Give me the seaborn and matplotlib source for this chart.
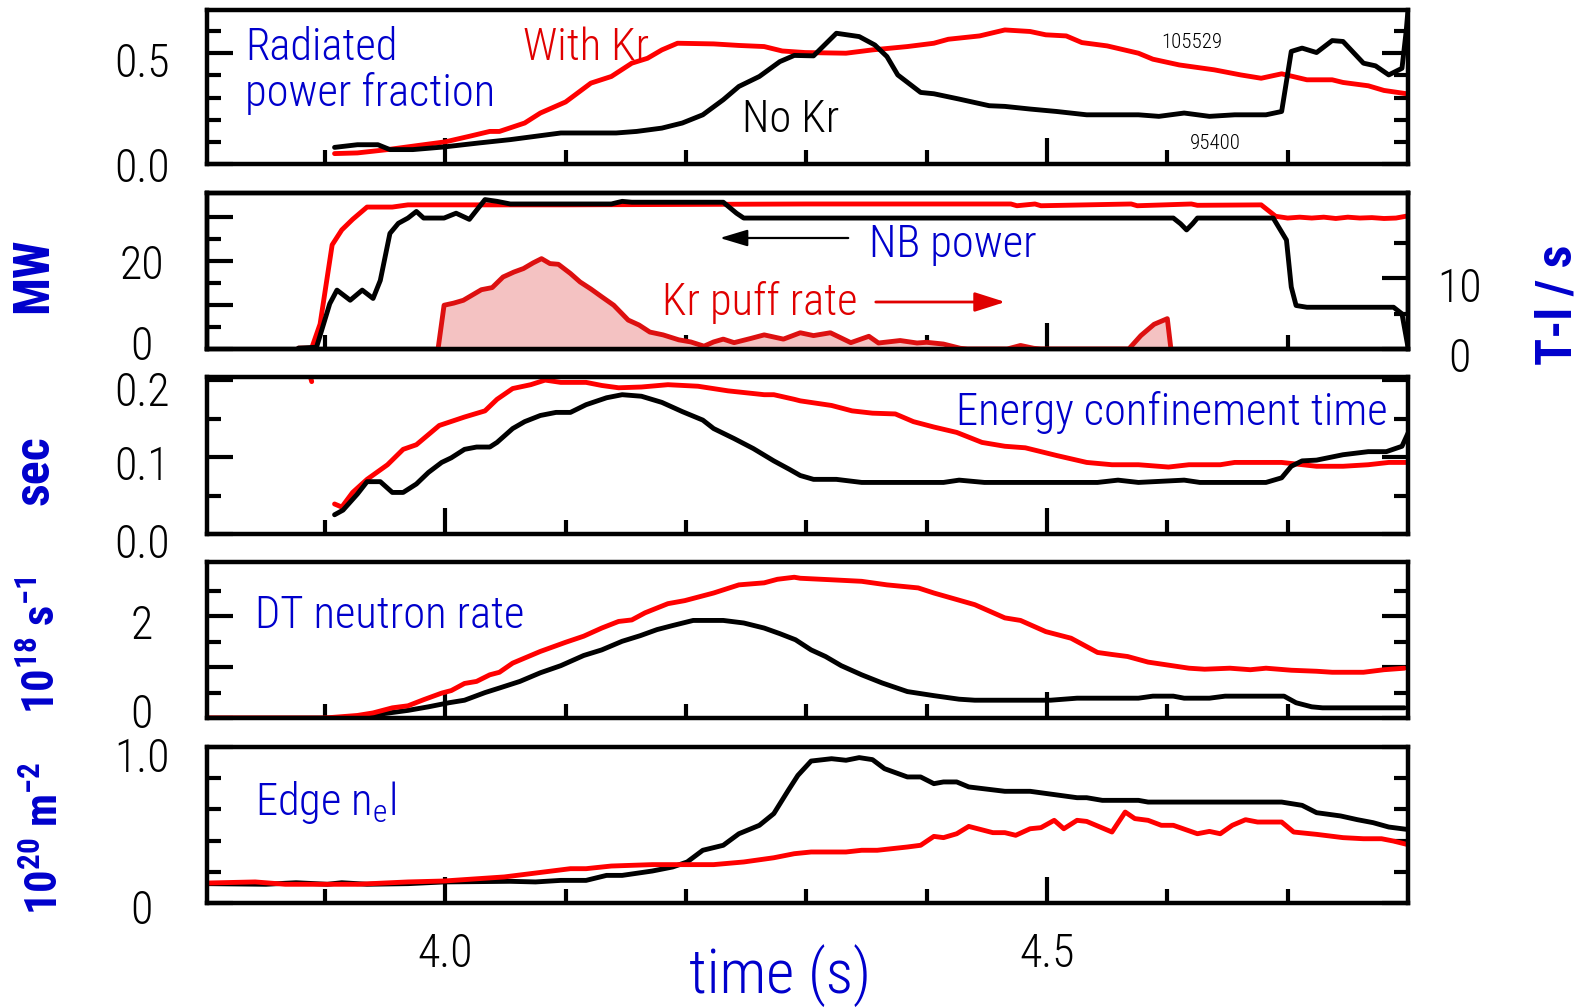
import numpy as np
import pandas as pd
import seaborn as sns
import matplotlib
matplotlib.use("Agg")
import matplotlib.pyplot as plt
from matplotlib import font_manager as fm
from matplotlib.transforms import ScaledTranslation

# ---------------- data ----------------
# Panel 1: radiated power fraction
t_rad_kr = [3.908, 3.927, 3.952, 3.978, 4.0, 4.02, 4.037, 4.045, 4.066, 4.079, 4.1, 4.121, 4.138, 4.155, 4.168,
            4.18, 4.193, 4.223, 4.244, 4.265, 4.28, 4.299, 4.333, 4.355, 4.384, 4.406, 4.418, 4.444, 4.465, 4.486,
            4.499, 4.516, 4.529, 4.55, 4.576, 4.588, 4.61, 4.639, 4.661, 4.678, 4.695, 4.716, 4.737, 4.746, 4.767,
            4.78, 4.799]
rad_kr = [0.047, 0.05, 0.065, 0.084, 0.10, 0.125, 0.147, 0.147, 0.185, 0.23, 0.28, 0.365, 0.395, 0.455, 0.477,
          0.515, 0.545, 0.542, 0.535, 0.53, 0.51, 0.503, 0.5, 0.515, 0.53, 0.545, 0.563, 0.578, 0.605, 0.598,
          0.583, 0.578, 0.548, 0.533, 0.5, 0.473, 0.447, 0.425, 0.402, 0.387, 0.407, 0.38, 0.38, 0.368, 0.353,
          0.332, 0.317]
t_rad_no = [3.908, 3.927, 3.944, 3.954, 3.973, 3.999, 4.028, 4.054, 4.096, 4.142, 4.159, 4.18, 4.197, 4.214,
            4.231, 4.244, 4.261, 4.278, 4.29, 4.306, 4.325, 4.344, 4.357, 4.367, 4.376, 4.395, 4.406, 4.427,
            4.452, 4.465, 4.486, 4.508, 4.533, 4.576, 4.593, 4.614, 4.635, 4.656, 4.682, 4.695, 4.703, 4.712,
            4.724, 4.737, 4.746, 4.763, 4.773, 4.784, 4.795, 4.7985, 4.8]
rad_no = [0.075, 0.087, 0.087, 0.065, 0.065, 0.077, 0.095, 0.11, 0.14, 0.14, 0.147, 0.162, 0.185, 0.222,
          0.29, 0.35, 0.395, 0.462, 0.49, 0.488, 0.59, 0.575, 0.537, 0.485, 0.402, 0.323, 0.317, 0.293,
          0.263, 0.26, 0.248, 0.237, 0.222, 0.222, 0.215, 0.23, 0.215, 0.222, 0.222, 0.237, 0.508, 0.523,
          0.503, 0.557, 0.553, 0.455, 0.443, 0.402, 0.432, 0.6, 0.695]

# Panel 2: NB power (MW) and Kr puff rate (T-l/s)
t_nb_kr = [3.878, 3.889, 3.896, 3.906, 3.914, 3.923, 3.935, 3.956, 3.969, 4.1, 4.2, 4.3, 4.4, 4.47, 4.475,
           4.49, 4.495, 4.57, 4.575, 4.62, 4.625, 4.678, 4.69, 4.70, 4.71, 4.72, 4.73, 4.74, 4.75, 4.76, 4.77,
           4.78, 4.79, 4.8]
nb_kr = [0.2, 0.2, 5.7, 23.7, 27.1, 29.5, 32.3, 32.3, 32.8, 32.8, 32.9, 33.0, 33.0, 33.0, 32.6,
         33.0, 32.6, 33.0, 32.6, 33.0, 32.7, 32.8, 30.2, 29.8, 30.0, 29.8, 30.0, 29.7, 30.0, 29.8, 29.9,
         29.7, 29.8, 30.3]
t_nb_no = [3.878, 3.893, 3.904, 3.91, 3.921, 3.931, 3.94, 3.946, 3.954, 3.961, 3.969, 3.976, 3.982, 3.999,
           4.009, 4.02, 4.033, 4.043, 4.054, 4.138, 4.147, 4.155, 4.231, 4.242, 4.248, 4.605, 4.611, 4.616,
           4.621, 4.625, 4.688, 4.699, 4.703, 4.707, 4.716, 4.788, 4.795, 4.8]
nb_no = [0.2, 0.4, 10.3, 13.4, 11.1, 13.4, 11.5, 15.6, 26.3, 28.6, 29.8, 31.3, 29.8, 29.8,
         30.9, 29.5, 34.0, 33.6, 33.0, 33.0, 33.6, 33.4, 33.4, 30.9, 29.8, 29.8, 28.5, 27.1,
         28.5, 29.8, 29.8, 24.8, 14.1, 9.9, 9.5, 9.5, 8.0, 0.4]
t_puff = [3.994, 3.999, 4.007, 4.015, 4.024, 4.03, 4.039, 4.048, 4.057, 4.065, 4.073, 4.08, 4.087, 4.094,
          4.104, 4.112, 4.121, 4.13, 4.14, 4.152, 4.161, 4.17, 4.181, 4.194, 4.204, 4.215, 4.223, 4.231,
          4.24, 4.254, 4.265, 4.281, 4.295, 4.306, 4.32, 4.337, 4.352, 4.36, 4.378, 4.392, 4.4, 4.414,
          4.428, 4.434, 4.467, 4.478, 4.489, 4.495, 4.568, 4.578, 4.589, 4.6, 4.603]
puff = [0, 6.2, 6.5, 6.9, 7.8, 8.4, 8.7, 10.2, 10.9, 11.4, 12.2, 12.8, 12.1, 12.0,
        10.7, 9.5, 8.5, 7.4, 6.2, 4.1, 3.4, 2.4, 2.0, 1.3, 1.0, 0.4, 1.0, 1.4,
        0.9, 1.5, 2.0, 1.4, 2.3, 1.9, 2.3, 0.9, 1.8, 0.85, 1.2, 0.85, 0.95, 0.7,
        0.1, 0, 0, 0.5, 0.1, 0, 0, 1.9, 3.5, 4.3, 0]

# Panel 3: energy confinement time (s)
t_tau_kr0 = [3.886, 3.889]
tau_kr0 = [0.215, 0.198]
t_tau_kr = [3.908, 3.914, 3.923, 3.935, 3.952, 3.965, 3.976, 3.995, 4.016, 4.033, 4.043, 4.056, 4.071, 4.083,
            4.096, 4.117, 4.13, 4.144, 4.163, 4.185, 4.21, 4.235, 4.265, 4.273, 4.29, 4.295, 4.321, 4.338,
            4.355, 4.374, 4.389, 4.406, 4.425, 4.446, 4.465, 4.482, 4.508, 4.533, 4.554, 4.576, 4.601, 4.618,
            4.644, 4.656, 4.695, 4.724, 4.746, 4.767, 4.784, 4.799]
tau_kr = [0.039, 0.035, 0.054, 0.071, 0.09, 0.11, 0.116, 0.141, 0.152, 0.16, 0.175, 0.189, 0.194, 0.2,
          0.197, 0.197, 0.193, 0.19, 0.191, 0.194, 0.192, 0.186, 0.181, 0.181, 0.175, 0.173, 0.167, 0.16,
          0.157, 0.156, 0.146, 0.139, 0.132, 0.119, 0.114, 0.112, 0.102, 0.093, 0.09, 0.09, 0.087, 0.09,
          0.09, 0.093, 0.093, 0.088, 0.088, 0.09, 0.093, 0.093]
t_tau_no = [3.908, 3.915, 3.927, 3.935, 3.946, 3.956, 3.965, 3.976, 3.986, 3.997, 4.005, 4.016, 4.026, 4.037,
            4.043, 4.056, 4.066, 4.079, 4.092, 4.104, 4.117, 4.134, 4.147, 4.163, 4.18, 4.197, 4.214, 4.223,
            4.24, 4.256, 4.273, 4.286, 4.295, 4.306, 4.325, 4.346, 4.414, 4.427, 4.448, 4.542, 4.559, 4.576,
            4.614, 4.627, 4.682, 4.695, 4.703, 4.712, 4.724, 4.746, 4.767, 4.782, 4.795, 4.8]
tau_no = [0.025, 0.031, 0.052, 0.068, 0.068, 0.054, 0.054, 0.065, 0.08, 0.093, 0.099, 0.11, 0.113, 0.113,
          0.119, 0.137, 0.146, 0.154, 0.158, 0.158, 0.168, 0.177, 0.181, 0.179, 0.171, 0.159, 0.148, 0.137,
          0.124, 0.111, 0.095, 0.084, 0.076, 0.071, 0.071, 0.067, 0.067, 0.07, 0.067, 0.067, 0.07, 0.067,
          0.07, 0.067, 0.067, 0.073, 0.088, 0.095, 0.096, 0.103, 0.107, 0.107, 0.114, 0.131]

# Panel 4: DT neutron rate (1e18 /s)
t_dt_kr = [3.802, 3.9, 3.927, 3.94, 3.956, 3.969, 3.982, 3.997, 4.005, 4.016, 4.026, 4.037, 4.045, 4.056,
           4.079, 4.1, 4.115, 4.13, 4.144, 4.155, 4.166, 4.185, 4.199, 4.223, 4.244, 4.265, 4.276, 4.29,
           4.295, 4.321, 4.346, 4.367, 4.393, 4.406, 4.44, 4.465, 4.478, 4.499, 4.52, 4.542, 4.554, 4.567,
           4.584, 4.618, 4.631, 4.652, 4.669, 4.682, 4.703, 4.724, 4.737, 4.763, 4.78, 4.797]
dt_kr = [0.0, 0.0, 0.05, 0.1, 0.2, 0.24, 0.36, 0.49, 0.54, 0.68, 0.72, 0.85, 0.9, 1.08,
         1.31, 1.49, 1.61, 1.77, 1.9, 1.93, 2.07, 2.25, 2.31, 2.46, 2.62, 2.66, 2.73, 2.77,
         2.75, 2.72, 2.69, 2.62, 2.56, 2.46, 2.23, 1.97, 1.92, 1.7, 1.57, 1.29, 1.25, 1.21,
         1.1, 0.98, 0.96, 0.98, 0.95, 0.98, 0.94, 0.92, 0.9, 0.9, 0.95, 0.98]
t_dt_no = [3.802, 3.92, 3.944, 3.969, 3.986, 4.003, 4.016, 4.033, 4.045, 4.062, 4.079, 4.096, 4.115, 4.13,
           4.147, 4.162, 4.176, 4.189, 4.206, 4.231, 4.248, 4.265, 4.278, 4.291, 4.304, 4.316, 4.329, 4.346,
           4.363, 4.384, 4.406, 4.427, 4.44, 4.503, 4.525, 4.576, 4.588, 4.605, 4.614, 4.635, 4.648, 4.697,
           4.707, 4.72, 4.729, 4.797]
dt_no = [0.0, 0.0, 0.07, 0.15, 0.22, 0.3, 0.35, 0.5, 0.59, 0.72, 0.89, 1.03, 1.23, 1.34,
         1.51, 1.62, 1.74, 1.82, 1.92, 1.92, 1.87, 1.77, 1.66, 1.54, 1.34, 1.21, 1.03, 0.85,
         0.69, 0.52, 0.44, 0.37, 0.35, 0.35, 0.39, 0.39, 0.43, 0.43, 0.39, 0.39, 0.43, 0.43,
         0.3, 0.22, 0.2, 0.2]

# Panel 5: edge line density (1e20 m^-2)
t_ne_kr = [3.802, 3.842, 3.867, 3.927, 3.969, 3.999, 4.02, 4.049, 4.075, 4.104, 4.117, 4.138, 4.172, 4.223,
           4.248, 4.273, 4.29, 4.304, 4.333, 4.346, 4.359, 4.384, 4.395, 4.406, 4.414, 4.425, 4.435, 4.455,
           4.465, 4.474, 4.486, 4.495, 4.506, 4.514, 4.525, 4.533, 4.554, 4.565, 4.573, 4.584, 4.595, 4.605,
           4.625, 4.635, 4.644, 4.654, 4.665, 4.675, 4.695, 4.705, 4.724, 4.746, 4.763, 4.778, 4.788, 4.799]
ne_kr = [0.128, 0.135, 0.12, 0.12, 0.135, 0.141, 0.152, 0.167, 0.192, 0.22, 0.22, 0.237, 0.246, 0.246,
         0.263, 0.29, 0.316, 0.327, 0.327, 0.338, 0.338, 0.359, 0.37, 0.427, 0.419, 0.444, 0.491, 0.451,
         0.451, 0.434, 0.476, 0.483, 0.53, 0.476, 0.53, 0.523, 0.455, 0.583, 0.541, 0.53, 0.498, 0.498,
         0.444, 0.459, 0.444, 0.498, 0.534, 0.519, 0.519, 0.455, 0.44, 0.419, 0.412, 0.412, 0.397, 0.376]
t_ne_no = [3.802, 3.851, 3.876, 3.902, 3.914, 3.935, 3.969, 3.999, 4.054, 4.075, 4.096, 4.117, 4.134, 4.147,
           4.172, 4.189, 4.201, 4.214, 4.231, 4.244, 4.261, 4.273, 4.285, 4.293, 4.304, 4.321, 4.333, 4.344,
           4.355, 4.365, 4.384, 4.395, 4.406, 4.414, 4.425, 4.435, 4.465, 4.486, 4.525, 4.533, 4.546, 4.576,
           4.584, 4.695, 4.712, 4.724, 4.744, 4.758, 4.771, 4.784, 4.799]
ne_no = [0.124, 0.12, 0.13, 0.12, 0.13, 0.12, 0.124, 0.135, 0.139, 0.135, 0.145, 0.145, 0.177, 0.177,
         0.205, 0.231, 0.263, 0.338, 0.37, 0.444, 0.498, 0.573, 0.722, 0.818, 0.91, 0.925, 0.915, 0.932,
         0.919, 0.861, 0.808, 0.808, 0.765, 0.776, 0.776, 0.744, 0.716, 0.716, 0.675, 0.675, 0.658, 0.658,
         0.647, 0.647, 0.626, 0.579, 0.558, 0.534, 0.515, 0.487, 0.472]

# ---------------- style ----------------
sns.set_style("ticks")
names = {f.name for f in fm.fontManager.ttflist}


def pick(cands):
    for c in cands:
        if c in names:
            return c
    return "DejaVu Sans"


NARROW = pick(["Liberation Sans Narrow", "Roboto Condensed", "DejaVu Sans Condensed", "Liberation Sans"])
plt.rcParams["font.family"] = [NARROW, "DejaVu Sans"]
plt.rcParams["font.weight"] = "light"
plt.rcParams["mathtext.default"] = "regular"
plt.rcParams.update({"text.color": "black", "xtick.color": "black", "ytick.color": "black",
                     "axes.edgecolor": "black", "axes.linewidth": 3.2})

BLUE = "#0000cc"
RED_TXT = "#e00000"
RED = "#ff0000"
PUFF_EDGE = "#dd1010"
PUFF_FILL = "#f4c2c2"
LW = 3.5

W, H = 1581, 1008
fig = plt.figure(figsize=(W / 100, H / 100), dpi=100)
L = 207 / W
AW = (1408 - 207) / W
panel_px = [(10, 164), (193, 349), (377, 534), (562, 718), (747, 903)]
axes = [fig.add_axes([L, 1 - b / H, AW, (b - t) / H]) for t, b in panel_px]


def line(ax, t, v, color, z=2):
    sns.lineplot(x=t, y=v, ax=ax, color=color, linewidth=LW, estimator=None, sort=False,
                 zorder=z, solid_joinstyle="round")


def style(ax, ylim, major, labels, minor, right=True, xlabels=False):
    ax.set_xlim(3.802, 4.8)
    ax.set_ylim(*ylim)
    ax.set_xticks([4.0, 4.5])
    ax.set_xticks([3.9, 4.1, 4.2, 4.3, 4.4, 4.6, 4.7], minor=True)
    ax.set_xticklabels(["4.0", "4.5"] if xlabels else ["", ""])
    ax.set_yticks(major)
    ax.set_yticks(minor, minor=True)
    ax.set_yticklabels(labels)
    for lb in ax.get_yticklabels():
        lb.set_horizontalalignment("center")
    ax.tick_params(axis="both", which="both", direction="in", width=3, top=False, bottom=True,
                   left=True, right=right, labelsize=33, colors="black")
    ax.tick_params(axis="both", which="major", length=19)
    ax.tick_params(axis="both", which="minor", length=10)
    ax.tick_params(axis="y", pad=47)
    ax.tick_params(axis="x", pad=21)
    ax.set_xlabel("")
    ax.set_ylabel("")
    for s in ax.spines.values():
        s.set_visible(True)
        s.set_color("black")
        s.set_linewidth(3.2)


def shift_labels(axis, offsets):
    # move tick labels down by the given pixel amounts (negative = up)
    for tick, dy in zip(axis.get_major_ticks(), offsets):
        for lb in (tick.label1, tick.label2):
            lb.set_transform(lb.get_transform() + ScaledTranslation(0, -dy / 100, fig.dpi_scale_trans))


# Panel 1
ax = axes[0]
line(ax, t_rad_kr, rad_kr, RED)
line(ax, t_rad_no, rad_no, "black")
style(ax, (0, 0.695), [0.0, 0.5], ["0.0", "0.5"], [0.1, 0.2, 0.3, 0.4, 0.6])

# Panel 2
ax = axes[1]
line(ax, t_nb_kr, nb_kr, RED)
line(ax, t_nb_no, nb_no, "black")
style(ax, (0, 35.5), [0, 10, 20, 30], ["0", "", "20", ""], [5, 15, 25], right=False)
ax2 = ax.twinx()
ax2.fill_between(t_puff, puff, 0, color=PUFF_FILL, lw=0, zorder=1)
line(ax2, t_puff, puff, PUFF_EDGE)
ax2.set_xlim(3.802, 4.8)
ax2.set_ylim(0, 22.1)
ax2.set_yticks([0, 10])
ax2.set_yticks([5, 15], minor=True)
ax2.set_yticklabels(["0", "10"])
for lb in ax2.get_yticklabels():
    lb.set_horizontalalignment("center")
ax2.tick_params(axis="y", which="both", direction="in", width=3, left=False, right=True,
                labelsize=33, colors="black", pad=37)
ax2.tick_params(axis="y", which="major", length=19)
ax2.tick_params(axis="y", which="minor", length=10)
ax2.set_ylabel("")
for s in ax2.spines.values():
    s.set_color("black")
    s.set_linewidth(3.2)

# Panel 3
ax = axes[2]
line(ax, t_tau_kr0, tau_kr0, RED)
line(ax, t_tau_kr, tau_kr, RED)
line(ax, t_tau_no, tau_no, "black")
style(ax, (0, 0.204), [0.0, 0.1, 0.2], ["0.0", "0.1", "0.2"], [0.05, 0.15])

# Panel 4
ax = axes[3]
line(ax, t_dt_no, dt_no, "black")
line(ax, t_dt_kr, dt_kr, RED)
style(ax, (0, 3.07), [0, 1, 2], ["0", "", "2"], [0.5, 1.5, 2.5])

# Panel 5
ax = axes[4]
line(ax, t_ne_no, ne_no, "black")
line(ax, t_ne_kr, ne_kr, RED)
style(ax, (0, 1.0), [0, 1.0], ["0", "1.0"], [0.2, 0.4, 0.6, 0.8], xlabels=True)

# label offsets as in the reference
shift_labels(axes[0].yaxis, [0, 6])
shift_labels(axes[1].yaxis, [-7, 0, 0, 0])
shift_labels(ax2.yaxis, [6, 6])
shift_labels(axes[2].yaxis, [6, 5, 8])
shift_labels(axes[3].yaxis, [-7, 0, 5])
shift_labels(axes[4].yaxis, [4, 7])


# ---------------- annotations ----------------
def fx(x):
    return x / W


def fy(y):
    return 1 - y / H


FS = 32
fig.text(fx(245), fy(60), "Radiated", color=BLUE, fontsize=FS, va="baseline")
fig.text(fx(245), fy(106), "power fraction", color=BLUE, fontsize=FS, va="baseline")
fig.text(fx(523), fy(60), "With Kr", color=RED_TXT, fontsize=FS, va="baseline")
fig.text(fx(742), fy(132), "No Kr", color="black", fontsize=FS, va="baseline")
fig.text(fx(1192), fy(42), "105529", color="black", fontsize=15, ha="center", va="center")
fig.text(fx(1215), fy(144), "95400", color="black", fontsize=15, ha="center", va="center")
fig.text(fx(869), fy(257), "NB power", color=BLUE, fontsize=FS, va="baseline")
fig.text(fx(662), fy(315), "Kr puff rate", color=RED_TXT, fontsize=FS, va="baseline")
fig.text(fx(956), fy(425), "Energy confinement time", color=BLUE, fontsize=FS, va="baseline")
fig.text(fx(255), fy(628), "DT neutron rate", color=BLUE, fontsize=FS, va="baseline")
fig.text(fx(255), fy(815), "Edge n$_e$l", color=BLUE, fontsize=FS, va="baseline")
fig.text(fx(780), fy(993), "time (s)", color=BLUE, fontsize=44, ha="center", va="baseline")

fig.add_artist(matplotlib.patches.FancyArrowPatch(
    (fx(851), fy(238)), (fx(717), fy(238)), transform=fig.transFigure,
    arrowstyle="-|>,head_length=1.0,head_width=0.3", mutation_scale=17, color="black", lw=1.6))
fig.add_artist(matplotlib.patches.FancyArrowPatch(
    (fx(873), fy(302)), (fx(1008), fy(302)), transform=fig.transFigure,
    arrowstyle="-|>,head_length=1.1,head_width=0.35", mutation_scale=17, color=RED_TXT, lw=2.0))

side = dict(color=BLUE, fontweight="bold", rotation=90, ha="center", va="center")
fig.text(fx(34), fy(275), "MW", fontsize=36, **side)
fig.text(fx(35), fy(470), "sec", fontsize=36, **side)
fig.text(fx(42), fy(645), "10$^{18}$ s$^{-1}$", fontsize=32, **side)
fig.text(fx(45), fy(838), "10$^{20}$ m$^{-2}$", fontsize=32, **side)
fig.text(fx(1558), fy(305), "T-l / s", fontsize=36, **side)

fig.savefig("out.png", dpi=100)
